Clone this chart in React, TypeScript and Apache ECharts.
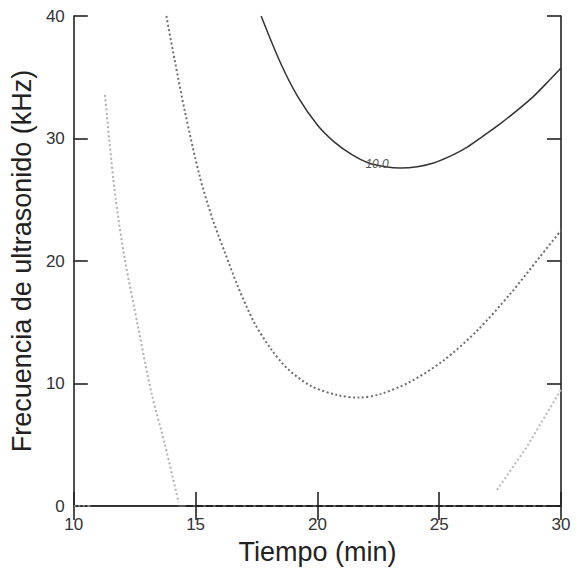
import React, { useEffect, useRef } from "react";
import * as echarts from "echarts";

const xTicks = [10, 15, 20, 25, 30];
const yTicks = [0, 10, 20, 30, 40];

// contour "10.0" (solid)
const contourSolid: [number, number][] = [
  [17.69, 40], [18.5, 36.1], [19.2, 33.4], [20.0, 31.1], [20.7, 29.7], [21.4, 28.7], [22.1, 28.0],
  [22.8, 27.7], [23.4, 27.6], [24.1, 27.7], [24.77, 28.0], [25.5, 28.6], [26.15, 29.3],
  [26.8, 30.2], [27.5, 31.2], [28.2, 32.3], [28.85, 33.4], [29.4, 34.5], [30, 35.75],
];
// middle dotted contour
const contourMid: [number, number][] = [
  [13.8, 40], [14.14, 36.4], [14.55, 32.3], [15.17, 26.9], [15.7, 23.4], [16.2, 20.7],
  [16.74, 17.9], [17.4, 15.0], [18.1, 12.8], [18.78, 11.2], [19.73, 9.8], [20.83, 9.05],
  [21.7, 8.85], [22.6, 9.15], [23.82, 10.15], [25.19, 11.9], [26.55, 14.3], [27.91, 17.3],
  [29.14, 20.35], [30, 22.5],
];
// light left contour
const contourLeft: [number, number][] = [
  [11.28, 33.55], [11.69, 25.5], [12.1, 20.1], [12.64, 14.6], [13.19, 9.2], [13.73, 5.1], [14.3, 0.3],
];
// light bottom-right contour
const contourRight: [number, number][] = [
  [27.37, 1.3], [28.6, 4.84], [30, 9.5],
];
// bottom boundary pieces
const bottomSolid: [number, number][] = [[10.7, 0], [14.3, 0]];
const bottomDashed: [number, number][] = [[14.6, 0], [30, 0]];
const bottomLight: [number, number][] = [[10, 0], [10.7, 0]];
const labelPoint: [number, number] = [22.45, 27.9];
const labelText = "10.0";

export default function App() {
  const ref = useRef<HTMLDivElement>(null);
  useEffect(() => {
    if (!ref.current) return;
    const chart = echarts.init(ref.current, null, { renderer: "svg" });
    const font = "Liberation Sans, Arial, sans-serif";
    const frame = { color: "#222", width: 1.6 };
    const tickStyle = { show: true, inside: true, length: 14, lineStyle: frame };
    const mkLine = (data: [number, number][], color: string, width: number, type: any, smooth: any = 0.3, z = 2) => ({
      type: "line",
      data,
      smooth,
      symbol: "none",
      z,
      lineStyle: { color, width, type },
    });
    chart.setOption({
      animation: false,
      backgroundColor: "#fff",
      grid: { left: 72, top: 16, width: 489, height: 490 },
      xAxis: [
        {
          type: "value",
          min: 10,
          max: 30,
          interval: 5,
          position: "bottom",
          name: "Tiempo (min)",
          nameLocation: "middle",
          nameGap: 32,
          nameTextStyle: { fontSize: 27, color: "#222", fontFamily: font },
          axisLine: { show: false },
          axisTick: tickStyle,
          axisLabel: { fontSize: 17, color: "#333", fontFamily: font, margin: 10, showMinLabel: true, showMaxLabel: true },
          splitLine: { show: false },
        },
        {
          type: "value",
          min: 10,
          max: 30,
          interval: 5,
          position: "top",
          axisLine: { show: true, lineStyle: frame },
          axisTick: tickStyle,
          axisLabel: { show: false },
          splitLine: { show: false },
        },
      ],
      yAxis: [
        {
          type: "value",
          min: 0,
          max: 40,
          interval: 10,
          position: "left",
          name: "Frecuencia de ultrasonido (kHz)",
          nameLocation: "middle",
          nameGap: 34,
          nameTextStyle: { fontSize: 27, color: "#222", fontFamily: font },
          axisLine: { show: true, lineStyle: frame },
          axisTick: tickStyle,
          axisLabel: { fontSize: 17, color: "#333", fontFamily: font, margin: 9 },
          splitLine: { show: false },
        },
        {
          type: "value",
          min: 0,
          max: 40,
          interval: 10,
          position: "right",
          axisLine: { show: true, lineStyle: frame },
          axisTick: tickStyle,
          axisLabel: { show: false },
          splitLine: { show: false },
        },
      ],
      series: [
        {
          ...mkLine(contourSolid, "#333", 1.5, "solid"),
          markPoint: {
            symbol: "rect",
            symbolSize: [0, 0],
            data: [{ coord: labelPoint, value: labelText }],
            label: {
              show: true,
              position: "inside",
              formatter: labelText,
              fontSize: 12,
              fontStyle: "italic",
              color: "#555",
              fontFamily: font,
            },
          },
        },
        mkLine(contourMid, "#6e6e6e", 2, [2, 2.5]),
        mkLine(contourLeft, "#b0b0b0", 2, [2, 2.5]),
        mkLine(contourRight, "#b8b8b8", 2, [2, 2.5], false),
        mkLine(bottomSolid, "#222", 1.6, "solid", false, 5),
        mkLine(bottomDashed, "#222", 1.8, [7, 3], false, 5),
        mkLine(bottomLight, "#aaa", 1.6, [2, 2.5], false, 5),
      ],
    });
    return () => chart.dispose();
  }, []);
  return <div ref={ref} style={{ position: "fixed", left: 0, top: 0, width: 578, height: 571 }} />;
}
